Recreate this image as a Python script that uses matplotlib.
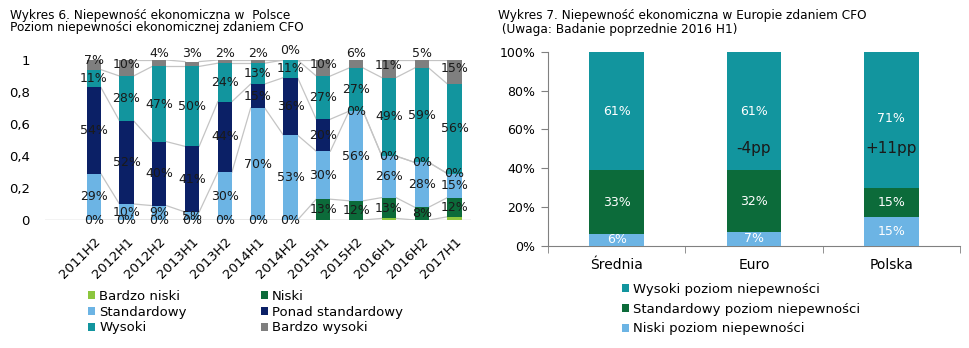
import numpy as np
import matplotlib
matplotlib.use("Agg")
import matplotlib.pyplot as plt
from matplotlib.ticker import FuncFormatter

# ---------- data: left chart (Wykres 6) -------------------------------------
periods = ["2011H2", "2012H1", "2012H2", "2013H1", "2013H2", "2014H1",
           "2014H2", "2015H1", "2015H2", "2016H1", "2016H2", "2017H1"]
bardzo_niski = [0, 0, 0, 0, 0, 0, 0, 0, 0, 1, 0, 2]
niski = [0, 0, 0, 0, 0, 0, 0, 13, 12, 13, 8, 12]
standardowy = [29, 10, 9, 5, 30, 70, 53, 30, 56, 26, 28, 15]
ponad_std = [54, 52, 40, 41, 44, 15, 36, 20, 0, 0, 0, 0]
wysoki = [11, 28, 47, 50, 24, 13, 11, 27, 27, 49, 59, 56]
bardzo_wysoki = [7, 10, 4, 3, 2, 2, 0, 10, 6, 11, 5, 15]
series_names = ["Bardzo niski", "Niski", "Standardowy", "Ponad standardowy",
                "Wysoki", "Bardzo wysoki"]
# bardzo niski labels are only visible for the first 7 periods
show_bn = [True] * 7 + [False] * 5

# ---------- data: right chart (Wykres 7) ------------------------------------
regions = ["Średnia", "Euro", "Polska"]
niski_eu = [6, 7, 15]
standard_eu = [33, 32, 15]
wysoki_eu = [61, 61, 71]
changes = ["", "-4pp", "+11pp"]

# ---------- style ----------------------------------------------------------
C_LGREEN = "#8cc63e"
C_DGREEN = "#0c6b3a"
C_LBLUE = "#6cb4e4"
C_NAVY = "#0b2066"
C_TEAL = "#12959e"
C_GRAY = "#7f7f7f"
LINE = "#c4c4c4"
plt.rcParams["font.family"] = "DejaVu Sans"

fig = plt.figure(figsize=(9.7, 3.48), dpi=100)

# ---------------------------------------------------------------------------
# left chart
ax = fig.add_axes([45 / 970, 128 / 348, 426 / 970, 160 / 348])
x = np.arange(len(periods))
w = 0.43
vals = [np.array(v) / 100 for v in (bardzo_niski, niski, standardowy,
                                    ponad_std, wysoki, bardzo_wysoki)]
colors = [C_LGREEN, C_DGREEN, C_LBLUE, C_NAVY, C_TEAL, C_GRAY]
bottom = np.zeros(len(periods))
handles = []
tops = []
for name, v, c in zip(series_names, vals, colors):
    b = ax.bar(x, v, w, bottom=bottom, color=c, label=name, zorder=3)
    handles.append(b)
    tops.append(bottom + v)
    # data labels
    for i in range(len(periods)):
        if name == "Bardzo niski" and not show_bn[i]:
            continue
        # niski 0% sits exactly under the bardzo niski 0% label
        if name == "Niski" and v[i] == 0:
            continue
        yc = bottom[i] + v[i] / 2
        if name == "Bardzo wysoki":
            if v[i] == 0:
                yc = 1.06
            elif v[i] < 0.07:
                yc = 1.04
            else:
                yc = yc + 0.02
        ax.text(x[i], yc, f"{round(v[i] * 100):d}%", ha="center", va="center",
                fontsize=9, color="#1a1a1a", zorder=5, clip_on=False)
    bottom = bottom + v

# series lines between bars
for t in tops:
    for i in range(len(periods) - 1):
        ax.plot([x[i] + w / 2, x[i + 1] - w / 2], [t[i], t[i + 1]],
                color=LINE, lw=0.9, zorder=2)
ax.axhline(0, color=LINE, lw=1, zorder=1)

ax.set_xlim((45 - 93.7) / 32.8, (471 - 93.7) / 32.8)
ax.set_ylim(0, 1)
ax.set_yticks(np.arange(0, 1.01, 0.2))
ax.yaxis.set_major_formatter(FuncFormatter(
    lambda v, p: "0" if v == 0 else ("1" if abs(v - 1) < 1e-9 else f"{v:.1f}".replace(".", ","))))
ax.tick_params(axis="y", length=0, labelsize=9.5, pad=11)
ax.set_xticks(x)
ax.set_xticklabels(periods, rotation=45, ha="right", rotation_mode="anchor",
                   fontsize=9.5)
ax.tick_params(axis="x", length=0, pad=11)
for s in ax.spines.values():
    s.set_visible(False)

order = [0, 2, 4, 1, 3, 5]
fig.legend([handles[k] for k in order], [series_names[k] for k in order],
           loc="upper left", bbox_to_anchor=(88 / 970, 1 - 290 / 348), ncol=2,
           frameon=False, fontsize=9.5, handlelength=0.55, handleheight=0.55,
           handletextpad=0.3, labelspacing=0.2, columnspacing=5.6,
           borderaxespad=0, borderpad=0)

fig.text(10 / 970, 1 - 15 / 348, "Wykres 6. Niepewność ekonomiczna w  Polsce",
         fontsize=8.7, va="center", ha="left")
fig.text(10 / 970, 1 - 28 / 348, "Poziom niepewności ekonomicznej zdaniem CFO",
         fontsize=8.7, va="center", ha="left")

# ---------------------------------------------------------------------------
# right chart
ax2 = fig.add_axes([548 / 970, (348 - 245.7) / 348, 412 / 970, 193.7 / 348])
xr = np.arange(len(regions))
wr = 0.4
n = np.array(niski_eu) / 100
s = np.array(standard_eu) / 100
h = np.array(wysoki_eu) / 100
b1 = ax2.bar(xr, n, wr, color=C_LBLUE, label="Niski poziom niepewności", zorder=3)
b2 = ax2.bar(xr, s, wr, bottom=n, color=C_DGREEN,
             label="Standardowy poziom niepewności", zorder=3)
b3 = ax2.bar(xr, h, wr, bottom=n + s, color=C_TEAL,
             label="Wysoki poziom niepewności", zorder=3)
for i in range(len(regions)):
    ax2.text(xr[i], n[i] / 2, f"{niski_eu[i]}%", ha="center", va="center",
             color="white", fontsize=9, zorder=5)
    ax2.text(xr[i], n[i] + s[i] / 2, f"{standard_eu[i]}%", ha="center",
             va="center", color="white", fontsize=9, zorder=5)
    ax2.text(xr[i], n[i] + s[i] + h[i] / 2, f"{wysoki_eu[i]}%",
             ha="center", va="center", color="white", fontsize=9, zorder=5)
    if changes[i]:
        ax2.text(xr[i], 0.5, changes[i], ha="center", va="center",
                 color="#1a1a1a", fontsize=11, zorder=5)

ax2.set_xlim(-0.5, 2.5)
ax2.set_ylim(0, 1)
ax2.set_yticks(np.arange(0, 1.01, 0.2))
ax2.yaxis.set_major_formatter(FuncFormatter(lambda v, p: f"{v * 100:.0f}%"))
ax2.tick_params(axis="y", length=5, color="#808080", labelsize=9, pad=4)
ax2.set_xticks(xr)
ax2.set_xticklabels(regions, fontsize=10)
ax2.set_xticks([-0.5, 0.5, 1.5, 2.5], minor=True)
ax2.tick_params(axis="x", which="major", length=0, pad=9)
ax2.tick_params(axis="x", which="minor", length=5, color="#808080")
ax2.spines["top"].set_visible(False)
ax2.spines["right"].set_visible(False)
ax2.spines["left"].set_color("#808080")
ax2.spines["bottom"].set_color("#808080")

fig.legend([b3, b2, b1], [b3.get_label(), b2.get_label(), b1.get_label()],
           loc="upper left", bbox_to_anchor=(622 / 970, 1 - 283 / 348),
           frameon=False, fontsize=9.5, handlelength=0.55, handleheight=0.55,
           handletextpad=0.3, labelspacing=0.5, borderaxespad=0, borderpad=0)

fig.text(498 / 970, 1 - 15 / 348,
         "Wykres 7. Niepewność ekonomiczna w Europie zdaniem CFO",
         fontsize=8.7, va="center", ha="left")
fig.text(498 / 970, 1 - 29 / 348, " (Uwaga: Badanie poprzednie 2016 H1)",
         fontsize=8.7, va="center", ha="left")

fig.savefig("out.png", dpi=100)
